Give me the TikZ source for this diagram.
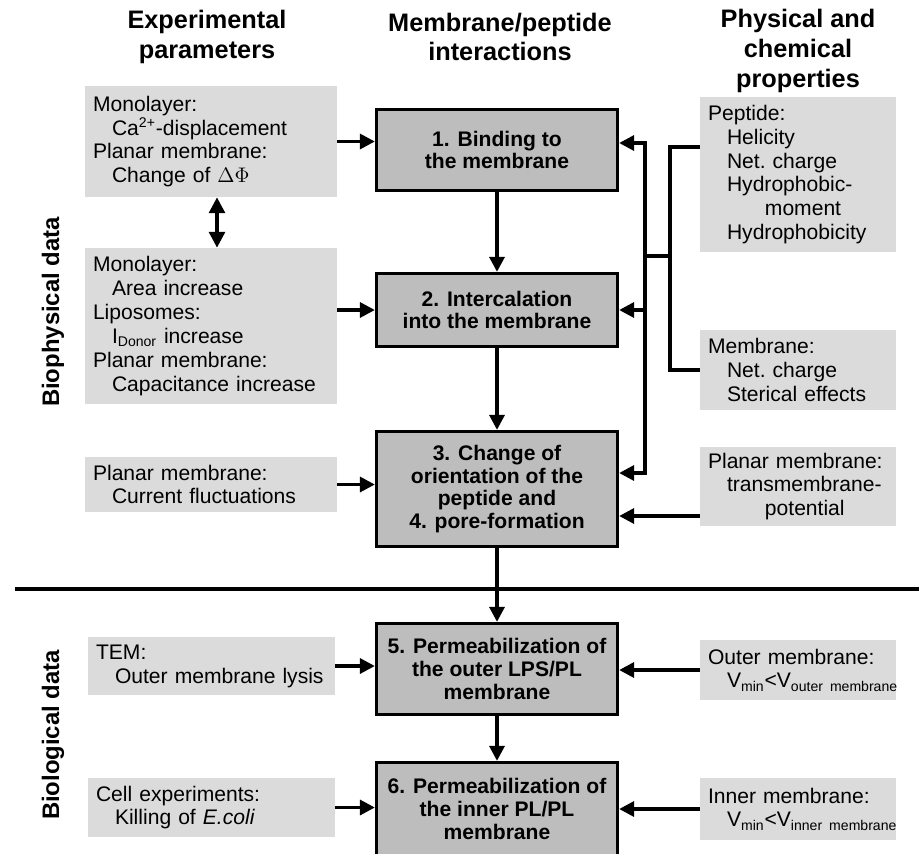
\documentclass[tikz,border=0pt]{standalone}
\usepackage{fontspec}
\setmainfont{Liberation Sans}
\usetikzlibrary{positioning,calc,arrows.meta}

\definecolor{lightbox}{gray}{0.86}
\definecolor{stagebox}{gray}{0.74}

\newcommand{\ind}{\hspace*{0.9em}}

\tikzset{
  hdr/.style={font=\fontsize{14.4}{17}\selectfont\bfseries, align=center},
  side/.style={font=\fontsize{13.6}{16}\selectfont\bfseries, rotate=90},
  expbox/.style={fill=lightbox, align=left, inner xsep=0.16cm, inner ysep=0pt,
    font=\fontsize{12}{13.6}\selectfont},
  stage/.style={draw, line width=1.9pt, fill=stagebox, align=center,
    minimum width=4.82cm, font=\fontsize{12}{13}\selectfont\bfseries},
  arr/.style={line width=1.9pt, -{Triangle[length=8.5pt,width=8.5pt]}},
  wire/.style={line width=1.9pt},
}

\begin{document}
\begin{tikzpicture}[x=0.02cm, y=-0.02cm]
    \useasboundingbox (0,0) rectangle (919,853);

    % column headers
    \node [hdr] (hexp) at (207,37) {Experimental\\parameters};
    \node [hdr] (hint) at (500,37) {Membrane/peptide\\interactions};
    \node [hdr] (hphys) at (798,51) {Physical and\\chemical\\properties};

    % side labels
    \node [side] (biophys) at (53,312) {Biophysical data};
    \node [side] (biolog) at (53,735) {Biological data};

    % experimental parameters
    \node [expbox, text width=4.72cm, minimum height=2.22cm] (eA) at (211,141.5)
      {Monolayer:\\\ind Ca\textsuperscript{2+}-displacement\\Planar membrane:\\\ind Change of $\Delta\Phi$};
    \node [expbox, text width=4.72cm, minimum height=3.12cm] (eB) at (211,326)
      {Monolayer:\\\ind Area increase\\Liposomes:\\\ind I\textsubscript{Donor} increase\\Planar membrane:\\\ind Capacitance increase};
    \node [expbox, text width=4.72cm, minimum height=1.1cm] (eC) at (211,484.5)
      {Planar membrane:\\\ind Current fluctuations};
    \node [expbox, text width=4.62cm, minimum height=1.16cm] (eD) at (211.5,666)
      {TEM:\\\ind Outer membrane lysis};
    \node [expbox, text width=4.62cm, minimum height=1.18cm] (eE) at (211.5,807.5)
      {Cell experiments:\\\ind Killing of \textit{E.coli}};

    % interaction steps
    \node [stage, minimum height=1.62cm] (b1) at (497,150) {1. Binding to\\the membrane};
    \node [stage, minimum height=1.46cm] (b2) at (497,310) {2. Intercalation\\into the membrane};
    \node [stage, minimum height=2.3cm] (b3) at (497,489)
      {3. Change of\\orientation of the\\peptide and\\4. pore-formation};
    \node [stage, minimum height=1.82cm] (b5) at (497,669)
      {5. Permeabilization of\\the outer LPS/PL\\membrane};
    \node [stage, minimum height=1.86cm] (b6) at (497,809)
      {6. Permeabilization of\\the inner PL/PL\\membrane};

    % physical and chemical properties
    \node [expbox, text width=3.6cm, minimum height=3.1cm] (pep) at (798,174.5)
      {Peptide:\\\ind Helicity\\\ind Net.\ charge\\\ind Hydrophobic-\\\ind\ind\ind moment\\\ind Hydrophobicity};
    \node [expbox, text width=3.6cm, minimum height=1.6cm] (mem) at (798,370)
      {Membrane:\\\ind Net.\ charge\\\ind Sterical effects};
    \node [expbox, text width=3.6cm, minimum height=1.58cm] (pot) at (798,486.5)
      {Planar membrane:\\\ind transmembrane-\\\ind\ind\ind potential};
    \node [expbox, text width=3.6cm, minimum height=1.2cm] (outer) at (798,670)
      {Outer membrane:\\\ind V\textsubscript{min}<V\textsubscript{outer membrane}};
    \node [expbox, text width=3.6cm, minimum height=1.24cm] (inner) at (798,809)
      {Inner membrane:\\\ind V\textsubscript{min}<V\textsubscript{inner membrane}};

    % left inputs
    \draw [{Triangle[length=9pt,width=9pt]}-{Triangle[length=9pt,width=9pt]}, line width=1.9pt]
      ([xshift=0.12cm]eA.south) -- ([xshift=0.12cm]eB.north);
    \draw [arr] (eA.east) -- (eA.east -| b1.west);
    \draw [arr] (eB.east |- b2) -- (b2.west);
    \draw [arr] (eC.east) -- (eC.east -| b3.west);
    \draw [arr] (eD.east) -- (eD.east -| b5.west);
    \draw [arr] (eE.east) -- (eE.east -| b6.west);

    % main chain
    \draw [arr] (b1) -- (b2);
    \draw [arr] (b2) -- (b3);
    \draw [arr] (b3) -- (b5);
    \draw [arr] (b5) -- (b6);

    % peptide / membrane properties
    \coordinate (bus1) at (645,143);
    \coordinate (bus3) at (645,473);
    \coordinate (brk1) at (670,147);
    \coordinate (brk) at (670,256);
    \draw [wire] (brk1 -| pep.west) -- (brk1) |- (mem.west);
    \draw [wire] (brk) -- (brk -| bus1);
    \draw [arr] (brk -| bus1) |- (b1.east |- bus1);
    \draw [arr] (brk -| bus1) |- (b3.east |- bus3);
    \draw [arr] (b2.east -| bus1) -- (b2.east);

    % right inputs
    \coordinate (potin) at ($(pot.west)+(0,29.5)$);
    \draw [arr] (potin) -- (potin -| b3.east);
    \draw [arr] (outer.west) -- (outer.west -| b5.east);
    \draw [arr] (inner.west) -- (inner.west -| b6.east);

    % separator
    \draw [line width=1.9pt] (15,589) -- (919,589);

\end{tikzpicture}
\end{document}
